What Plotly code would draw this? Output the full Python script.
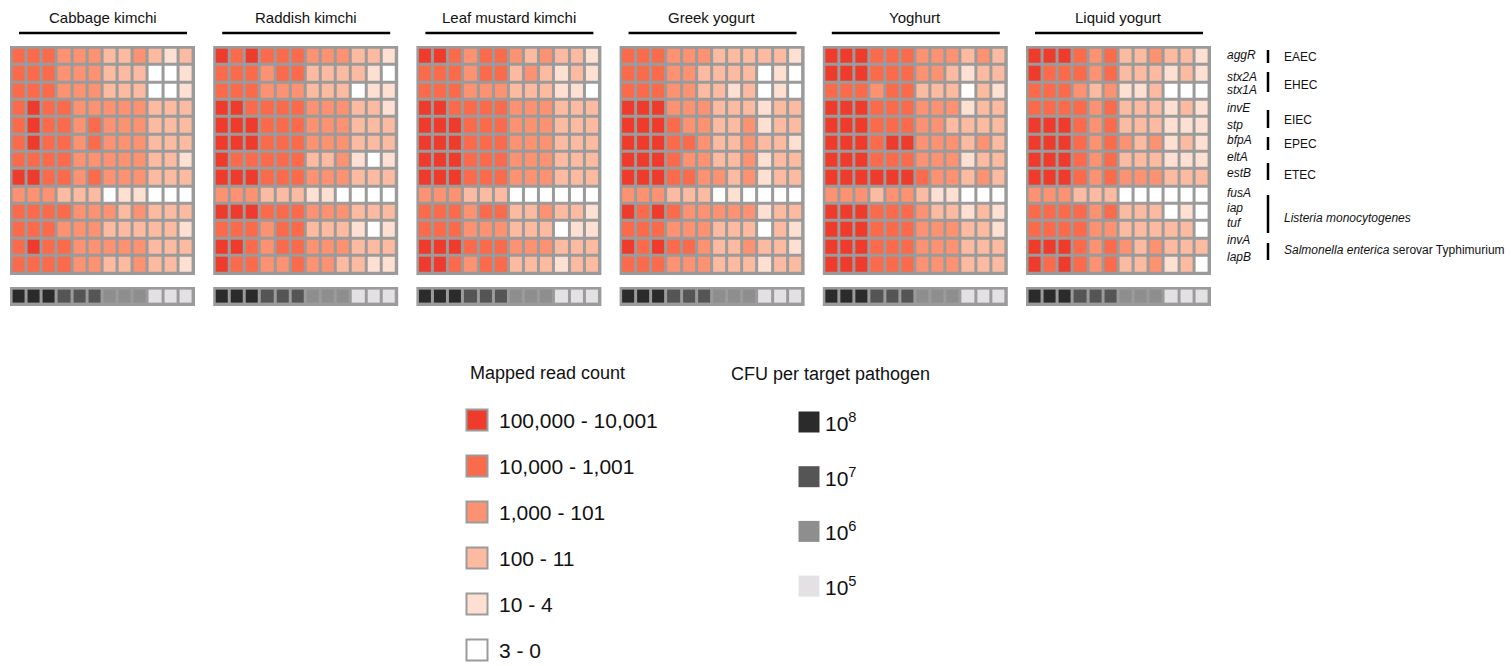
import plotly.graph_objects as go

# ---------------- data ----------------
panel_names = ["Cabbage kimchi", "Raddish kimchi", "Leaf mustard kimchi",
               "Greek yogurt", "Yoghurt", "Liquid yogurt"]
genes = ["aggR", "stx2A", "stx1A", "invE", "stp", "bfpA", "eltA", "estB",
         "fusA", "iap", "tuf", "invA", "lapB"]
pathotypes = ["EAEC", "EHEC", "EIEC", "EPEC", "ETEC",
              "<i>Listeria monocytogenes</i>",
              "<i>Salmonella enterica</i> serovar Typhimurium"]
# read-count level codes: 5 = 100,000-10,001 ... 0 = 3-0
read_level_labels = ["100,000 - 10,001", "10,000 - 1,001", "1,000 - 101",
                     "100 - 11", "10 - 4", "3 - 0"]
read_level_codes = [5, 4, 3, 2, 1, 0]
cfu_exponents = [8, 8, 8, 7, 7, 7, 6, 6, 6, 5, 5, 5]
cfu_legend = [8, 7, 6, 5]

cabbage_kimchi = [
    [4, 4, 4, 3, 3, 3, 2, 2, 3, 2, 1, 2],
    [4, 4, 4, 3, 3, 3, 2, 2, 2, 0, 0, 1],
    [4, 4, 4, 3, 3, 3, 2, 2, 2, 0, 0, 1],
    [4, 5, 4, 4, 3, 3, 3, 3, 3, 2, 2, 2],
    [4, 5, 4, 4, 3, 4, 3, 3, 3, 2, 2, 2],
    [4, 5, 4, 4, 3, 4, 3, 3, 3, 2, 2, 2],
    [4, 4, 4, 4, 3, 3, 3, 3, 3, 2, 2, 1],
    [5, 5, 4, 4, 3, 4, 3, 3, 3, 2, 2, 2],
    [3, 3, 3, 2, 2, 2, 0, 1, 1, 0, 0, 0],
    [4, 4, 4, 4, 3, 3, 3, 2, 3, 2, 2, 2],
    [4, 4, 4, 3, 3, 3, 2, 2, 2, 2, 2, 1],
    [4, 5, 4, 4, 3, 3, 3, 3, 3, 2, 2, 2],
    [4, 4, 4, 4, 3, 3, 2, 2, 3, 2, 2, 1],
]
raddish_kimchi = [
    [5, 4, 5, 4, 4, 4, 3, 3, 3, 2, 2, 1],
    [4, 4, 4, 3, 4, 4, 2, 2, 2, 2, 1, 0],
    [4, 4, 4, 3, 3, 3, 2, 2, 2, 0, 1, 1],
    [5, 5, 4, 4, 4, 4, 3, 3, 3, 2, 2, 1],
    [5, 5, 5, 4, 4, 4, 3, 3, 3, 2, 2, 2],
    [5, 5, 5, 4, 4, 4, 3, 3, 3, 2, 2, 2],
    [5, 4, 4, 4, 4, 4, 2, 2, 3, 1, 0, 1],
    [5, 5, 5, 4, 4, 4, 3, 3, 3, 2, 2, 2],
    [3, 3, 3, 2, 2, 2, 1, 1, 0, 0, 0, 0],
    [5, 5, 5, 4, 4, 4, 3, 3, 3, 2, 2, 2],
    [4, 4, 4, 3, 4, 4, 2, 2, 2, 1, 0, 1],
    [5, 5, 4, 3, 4, 4, 3, 3, 3, 2, 2, 2],
    [5, 4, 4, 3, 3, 4, 3, 3, 2, 2, 1, 1],
]
leaf_mustard_kimchi = [
    [5, 5, 4, 3, 4, 4, 3, 2, 3, 2, 2, 1],
    [4, 4, 4, 3, 4, 4, 2, 3, 2, 1, 2, 1],
    [4, 4, 4, 3, 3, 3, 2, 2, 2, 1, 1, 0],
    [5, 5, 4, 4, 4, 4, 3, 3, 3, 2, 2, 2],
    [5, 5, 5, 4, 4, 4, 3, 3, 3, 2, 2, 2],
    [5, 5, 5, 4, 4, 4, 3, 3, 3, 2, 2, 2],
    [5, 5, 5, 4, 4, 4, 3, 3, 3, 2, 2, 2],
    [5, 5, 5, 4, 4, 4, 3, 3, 3, 2, 2, 2],
    [3, 3, 3, 2, 2, 2, 0, 0, 0, 0, 0, 0],
    [4, 4, 4, 3, 4, 4, 2, 2, 3, 2, 2, 1],
    [4, 4, 4, 3, 3, 3, 2, 2, 2, 0, 1, 1],
    [5, 5, 5, 4, 4, 4, 3, 3, 3, 2, 2, 2],
    [5, 5, 4, 3, 4, 4, 2, 2, 2, 1, 2, 2],
]
greek_yogurt = [
    [4, 4, 4, 3, 3, 3, 2, 2, 2, 2, 2, 1],
    [4, 4, 4, 3, 3, 2, 2, 2, 2, 0, 1, 0],
    [4, 4, 4, 3, 3, 2, 2, 1, 2, 0, 1, 0],
    [5, 5, 5, 3, 3, 3, 2, 2, 2, 1, 2, 2],
    [5, 5, 5, 4, 3, 3, 2, 2, 3, 1, 2, 2],
    [5, 5, 5, 4, 4, 3, 2, 2, 3, 2, 2, 1],
    [5, 5, 5, 4, 3, 3, 2, 2, 3, 1, 2, 2],
    [5, 5, 5, 4, 4, 3, 3, 2, 3, 1, 2, 2],
    [3, 3, 3, 2, 2, 2, 0, 1, 0, 0, 0, 0],
    [5, 4, 5, 4, 3, 3, 3, 3, 3, 1, 2, 2],
    [4, 4, 4, 3, 3, 3, 2, 2, 2, 0, 2, 1],
    [5, 4, 5, 4, 4, 3, 2, 2, 3, 2, 2, 1],
    [4, 4, 4, 3, 3, 3, 2, 2, 2, 1, 2, 2],
]
yoghurt = [
    [5, 5, 5, 4, 4, 4, 3, 3, 3, 2, 3, 2],
    [5, 5, 5, 4, 4, 4, 3, 3, 2, 1, 2, 2],
    [4, 4, 4, 3, 4, 4, 2, 2, 2, 0, 2, 1],
    [5, 5, 5, 4, 4, 4, 3, 3, 3, 1, 2, 2],
    [5, 5, 5, 4, 4, 4, 3, 3, 2, 2, 2, 2],
    [5, 5, 5, 4, 5, 5, 3, 3, 3, 2, 3, 2],
    [5, 5, 5, 4, 4, 4, 3, 3, 3, 1, 2, 2],
    [5, 5, 5, 5, 5, 5, 4, 3, 3, 2, 3, 2],
    [3, 3, 3, 2, 3, 3, 2, 1, 1, 0, 0, 0],
    [5, 5, 5, 4, 4, 4, 3, 2, 2, 1, 2, 1],
    [5, 5, 5, 4, 4, 4, 3, 3, 3, 2, 2, 1],
    [5, 5, 5, 4, 4, 4, 3, 3, 3, 2, 2, 2],
    [5, 5, 5, 4, 4, 4, 3, 3, 3, 2, 2, 2],
]
liquid_yogurt = [
    [5, 5, 5, 4, 3, 4, 2, 2, 3, 2, 2, 1],
    [5, 4, 4, 4, 3, 4, 2, 2, 2, 1, 2, 1],
    [4, 4, 4, 3, 2, 3, 1, 1, 2, 0, 0, 0],
    [4, 4, 4, 4, 3, 4, 2, 2, 2, 1, 2, 1],
    [5, 5, 5, 4, 3, 4, 2, 2, 2, 1, 1, 1],
    [5, 5, 5, 4, 3, 4, 3, 2, 3, 1, 2, 1],
    [5, 5, 5, 4, 3, 4, 2, 2, 2, 1, 1, 1],
    [5, 5, 5, 4, 3, 4, 3, 3, 3, 2, 2, 2],
    [3, 3, 3, 2, 2, 2, 0, 0, 0, 0, 0, 0],
    [4, 4, 4, 4, 3, 4, 2, 2, 2, 0, 1, 0],
    [4, 4, 4, 4, 3, 3, 2, 2, 2, 2, 2, 0],
    [5, 5, 5, 4, 3, 4, 3, 2, 3, 2, 2, 2],
    [5, 4, 5, 4, 3, 4, 2, 2, 3, 1, 2, 0],
]
panel_matrices = [cabbage_kimchi, raddish_kimchi, leaf_mustard_kimchi,
                  greek_yogurt, yoghurt, liquid_yogurt]

# ---------------- styling / layout ----------------
W, H = 1511, 666
FONT = "Arial, Liberation Sans, sans-serif"
NARROW = "Liberation Sans Narrow, Arial Narrow, Arial, sans-serif"
TXT = "#111111"
GRID = "#9b9b9b"
reds = ["#ffffff", "#fee0d2", "#fcbba1", "#fc9272", "#fb6a4a", "#ee3b2c"]
greys = ["#e4e1e4", "#8e8e8e", "#555555", "#2b2b2b"]  # 10^5 .. 10^8


def px(x):
    return x / W


def py(y):
    return 1 - y / H


def discrete(colors):
    n = len(colors)
    cs = []
    for i, c in enumerate(colors):
        cs += [[i / n, c], [(i + 1) / n, c]]
    return cs


def ax(n):
    return ("x" if n == 1 else f"x{n}"), ("y" if n == 1 else f"y{n}")


fig = go.Figure()
layout = dict(width=W, height=H, autosize=False,
              margin=dict(l=0, r=0, t=0, b=0),
              paper_bgcolor="white", plot_bgcolor="rgba(0,0,0,0)",
              showlegend=False, hovermode=False,
              font=dict(family=FONT, color=TXT))
shapes, annotations = [], []

heat_top, heat_bot = 46, 275
bar_top, bar_bot = 287, 306
panel_w = 185
pad = 0.1
n_rows, n_cols = len(genes), len(cfu_exponents)

for k, (name, mat) in enumerate(zip(panel_names, panel_matrices)):
    left = 10 + 203.2 * k
    hx, hy = ax(k + 1)
    bx, by = ax(k + 7)
    fig.add_trace(go.Heatmap(
        z=mat, x=list(range(n_cols)), y=list(range(n_rows)),
        xaxis=hx, yaxis=hy, colorscale=discrete(reds), zmin=-0.5, zmax=5.5,
        showscale=False, xgap=3, ygap=3, hoverinfo="skip"))
    fig.add_trace(go.Heatmap(
        z=[cfu_exponents], x=list(range(n_cols)), y=[0],
        xaxis=bx, yaxis=by, colorscale=discrete(greys), zmin=4.5, zmax=8.5,
        showscale=False, xgap=3, ygap=3, hoverinfo="skip"))
    xr = [-0.5 - pad, n_cols - 0.5 + pad]
    layout["xaxis" + hx[1:]] = dict(domain=[px(left), px(left + panel_w)],
                                    range=xr, visible=False, anchor=hy, fixedrange=True)
    layout["yaxis" + hy[1:]] = dict(domain=[py(heat_bot), py(heat_top)],
                                    range=[n_rows - 0.5 + pad, -0.5 - pad],
                                    visible=False, anchor=hx, fixedrange=True)
    layout["xaxis" + bx[1:]] = dict(domain=[px(left), px(left + panel_w)],
                                    range=xr, visible=False, anchor=by, fixedrange=True)
    layout["yaxis" + by[1:]] = dict(domain=[py(bar_bot), py(bar_top)],
                                    range=[0.5 + pad, -0.5 - pad],
                                    visible=False, anchor=bx, fixedrange=True)
    for xa, ya in ((hx, hy), (bx, by)):
        shapes.append(dict(type="rect", xref=f"{xa} domain", yref=f"{ya} domain",
                           x0=0, x1=1, y0=0, y1=1, fillcolor=GRID,
                           line=dict(width=0), layer="below"))
    annotations.append(dict(text=name, x=px(left + panel_w / 2), y=py(18),
                            xref="paper", yref="paper", showarrow=False,
                            xanchor="center", yanchor="middle",
                            font=dict(size=15, family=FONT, color=TXT)))
    shapes.append(dict(type="line", xref="paper", yref="paper",
                       x0=px(left + 9), x1=px(left + 177), y0=py(33), y1=py(33),
                       line=dict(color="black", width=2.5)))

# gene labels (right side)
gene_label_y = [55, 77, 90, 108, 125, 140, 157, 173, 193, 208, 223, 240, 257]
for g, yy in zip(genes, gene_label_y):
    annotations.append(dict(text=f"<i>{g}</i>", x=px(1225), y=py(yy),
                            xref="paper", yref="paper", showarrow=False,
                            xanchor="left", yanchor="middle",
                            font=dict(size=12, family=NARROW, color=TXT)))
group_label_y = [57, 85, 120, 144, 175, 218, 250]
group_bar_span = [(50, 63), (72, 92), (110, 128), (137, 150), (163, 180),
                  (195, 233), (243, 260)]
for lab, yy, (y0, y1) in zip(pathotypes, group_label_y, group_bar_span):
    annotations.append(dict(text=lab, x=px(1282), y=py(yy),
                            xref="paper", yref="paper", showarrow=False,
                            xanchor="left", yanchor="middle",
                            font=dict(size=12, family=FONT, color=TXT)))
    shapes.append(dict(type="line", xref="paper", yref="paper",
                       x0=px(1268), x1=px(1268), y0=py(y0), y1=py(y1),
                       line=dict(color="black", width=2.5)))

# ---- legend: mapped read count (axis 13) ----
lx, ly = ax(13)
fig.add_trace(go.Scatter(
    x=[0] * len(read_level_codes), y=list(range(len(read_level_codes))),
    xaxis=lx, yaxis=ly, mode="markers", hoverinfo="skip",
    marker=dict(symbol="square", size=21,
                color=[reds[c] for c in read_level_codes],
                line=dict(color=GRID, width=2))))
layout["xaxis13"] = dict(domain=[px(462), px(492)], range=[-0.5, 0.5],
                         visible=False, anchor=ly, fixedrange=True)
layout["yaxis13"] = dict(domain=[0, py(400)],
                         range=[(666 - 420) / 46, (400 - 420) / 46],
                         visible=False, anchor=lx, fixedrange=True)
for i, lab in enumerate(read_level_labels):
    annotations.append(dict(text=lab, x=px(497), y=i, xref="paper", yref=ly,
                            showarrow=False, xanchor="left", yanchor="middle",
                            font=dict(size=21, family=FONT, color=TXT)))
annotations.append(dict(text="Mapped read count", x=px(468), y=py(373),
                        xref="paper", yref="paper", showarrow=False,
                        xanchor="left", yanchor="middle",
                        font=dict(size=18, family=FONT, color=TXT)))

# ---- legend: CFU per target pathogen (axis 14) ----
cx, cy = ax(14)
fig.add_trace(go.Scatter(
    x=[0] * len(cfu_legend), y=list(range(len(cfu_legend))),
    xaxis=cx, yaxis=cy, mode="markers", hoverinfo="skip",
    marker=dict(symbol="square", size=21,
                color=[greys[e - 5] for e in cfu_legend],
                line=dict(width=0))))
layout["xaxis14"] = dict(domain=[px(794), px(824)], range=[-0.5, 0.5],
                         visible=False, anchor=cy, fixedrange=True)
layout["yaxis14"] = dict(domain=[0, py(400)],
                         range=[(666 - 422) / 54.7, (400 - 422) / 54.7],
                         visible=False, anchor=cx, fixedrange=True)
for i, e in enumerate(cfu_legend):
    annotations.append(dict(text=f"10<sup>{e}</sup>", x=px(823), y=i,
                            xref="paper", yref=cy, showarrow=False,
                            xanchor="left", yanchor="middle",
                            font=dict(size=21, family=FONT, color=TXT)))
annotations.append(dict(text="CFU per target pathogen", x=px(729), y=py(374),
                        xref="paper", yref="paper", showarrow=False,
                        xanchor="left", yanchor="middle",
                        font=dict(size=18, family=FONT, color=TXT)))

layout["shapes"] = shapes
layout["annotations"] = annotations
fig.update_layout(**layout)

fig.write_html("out.html", config={"displayModeBar": False, "staticPlot": True},
               post_script="document.body.style.margin='0px';")
